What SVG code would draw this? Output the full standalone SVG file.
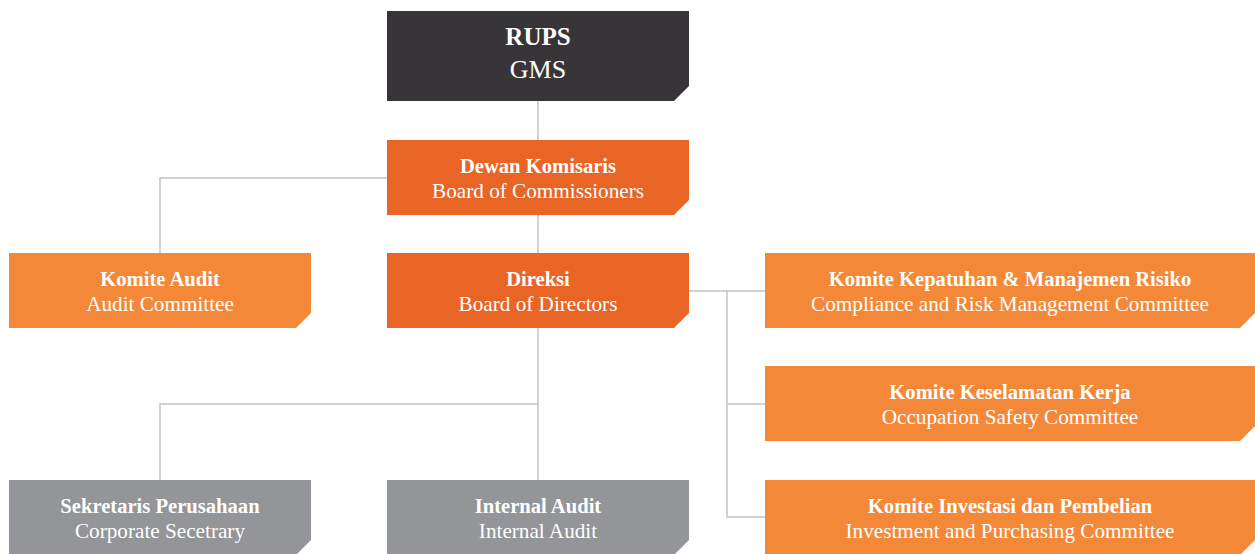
<svg xmlns="http://www.w3.org/2000/svg" width="1255" height="554" viewBox="0 0 1255 554">
<style>
.ln{stroke:#C4C4C6;stroke-width:1.5;fill:none}
.dark{fill:#383538}
.org{fill:#E96526}
.lor{fill:#F48839}
.gry{fill:#939598}
text{font-family:"Liberation Serif","Times New Roman",serif;fill:#FFFFFF;text-anchor:middle}
.b{font-weight:bold;font-size:20.6px}
.r{font-size:21.2px}
.bb{font-weight:bold;font-size:25px}
.rr{font-size:26px}
</style>
<g id="connectors">
<path class="ln" d="M538 101V140M538 215V253M387 178H160V253M538 328V480M538 404H160V480M689 291H765M727 291V517H765M727 404H765"/>
</g>
<g id="rups">
<polygon class="dark" points="387,11 689,11 689,86 674,101 387,101"/>
<text class="bb" x="538" y="45">RUPS</text>
<text class="rr" x="538" y="78">GMS</text>
</g>
<g id="dewan">
<polygon class="org" points="387,140 689,140 689,200 674,215 387,215"/>
<text class="b" x="538" y="173">Dewan Komisaris</text>
<text class="r" x="538" y="198">Board of Commissioners</text>
</g>
<g id="komite-audit">
<polygon class="lor" points="9,253 311,253 311,313 296,328 9,328"/>
<text class="b" x="160" y="286">Komite Audit</text>
<text class="r" x="160" y="311">Audit Committee</text>
</g>
<g id="direksi">
<polygon class="org" points="387,253 689,253 689,313 674,328 387,328"/>
<text class="b" x="538" y="286">Direksi</text>
<text class="r" x="538" y="311">Board of Directors</text>
</g>
<g id="kepatuhan">
<polygon class="lor" points="765,253 1255,253 1255,313 1240,328 765,328"/>
<text class="b" x="1010" y="286">Komite Kepatuhan &amp; Manajemen Risiko</text>
<text class="r" x="1010" y="311">Compliance and Risk Management Committee</text>
</g>
<g id="keselamatan">
<polygon class="lor" points="765,366 1255,366 1255,426 1240,441 765,441"/>
<text class="b" x="1010" y="399">Komite Keselamatan Kerja</text>
<text class="r" x="1010" y="424">Occupation Safety Committee</text>
</g>
<g id="investasi">
<polygon class="lor" points="765,480 1255,480 1255,540 1241,554 765,554"/>
<text class="b" x="1010" y="513">Komite Investasi dan Pembelian</text>
<text class="r" x="1010" y="538">Investment and Purchasing Committee</text>
</g>
<g id="sekretaris">
<polygon class="gry" points="9,480 311,480 311,540 297,554 9,554"/>
<text class="b" x="160" y="513">Sekretaris Perusahaan</text>
<text class="r" x="160" y="538">Corporate Secetrary</text>
</g>
<g id="internal-audit">
<polygon class="gry" points="387,480 689,480 689,540 675,554 387,554"/>
<text class="b" x="538" y="513">Internal Audit</text>
<text class="r" x="538" y="538">Internal Audit</text>
</g>
</svg>
